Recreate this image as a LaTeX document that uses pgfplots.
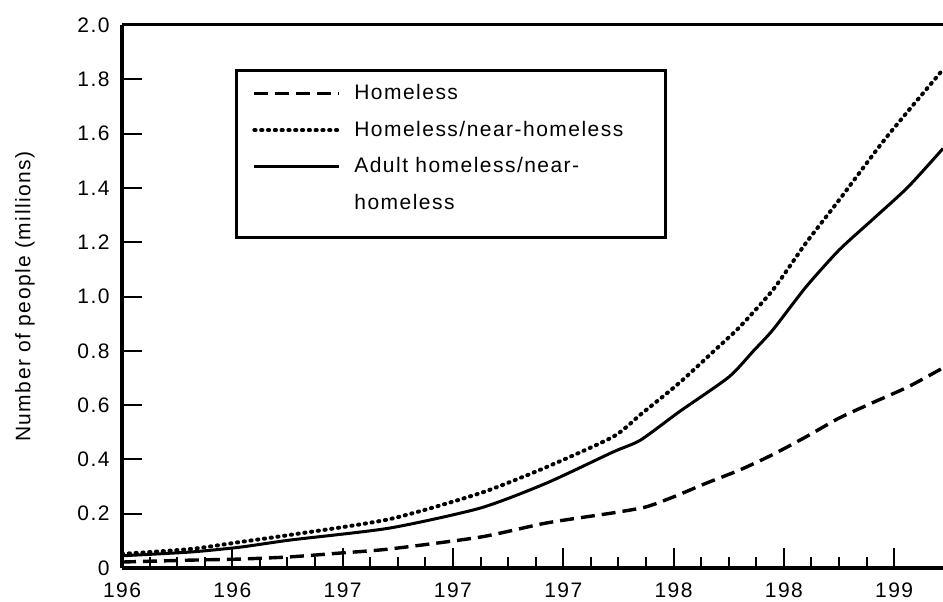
\documentclass[border=0pt]{standalone}
\usepackage{fontspec}
\setmainfont{Liberation Sans}[LetterSpace=7]
\usepackage{pgfplots}
\pgfplotsset{compat=1.18}
\begin{document}
\fontsize{10.5pt}{12.5pt}\selectfont
\begin{tikzpicture}
\begin{axis}[
  scale only axis, width=410.5pt, height=271.5pt,
  at={(0pt,0pt)}, anchor=south west,
  xmin=1962, xmax=1991.77, ymin=0, ymax=2,
  axis x line=bottom, axis y line=left,
  axis line style={-, line width=2.4pt, black},
  tick align=inside,
  xtick={1962,1966,1970,1974,1978,1982,1986,1990},
  xticklabels={196,196,197,197,197,198,198,199},
  minor x tick num=3,
  ytick={0,0.2,0.4,0.6,0.8,1.0,1.2,1.4,1.6,1.8,2.0},
  yticklabels={0,0.2,0.4,0.6,0.8,1.0,1.2,1.4,1.6,1.8,2.0},
  major tick length=10pt, minor tick length=5.5pt,
  every tick/.style={black, line width=1pt},
  tick label style={font=\fontsize{10.5pt}{12.5pt}\selectfont},
  /pgf/number format/assume math mode=true,
  xticklabel style={yshift=-3.5pt},
  yticklabel style={xshift=-2.5pt},
  ylabel={Number of people (millions)},
  every axis y label/.style={at={(axis description cs:-0.1181,0.5)}, rotate=90, anchor=center, font=\fontsize{10.5pt}{12.5pt}\selectfont},
  clip=false,
  legend cell align=left,
  legend style={at={(axis description cs:0.1583,0.9085)}, anchor=north west,
    draw=none, fill=none, inner sep=0pt, row sep=0pt, column sep=6.5pt,
    font=\fontsize{10.5pt}{12.5pt}\selectfont,
    nodes={inner sep=0pt, minimum height=18.35pt, text height=7.5pt, text depth=1.5pt}},
  legend image code/.code={\draw[#1] (0pt,0pt) -- (42.5pt,0pt);},
]
\addplot[black, line width=1.7pt, smooth, tension=0.4, dash pattern=on 7pt off 3.5pt] coordinates {
(1962.0,0.022) (1964.5,0.029) (1966.3,0.033) (1968.1,0.041) (1969.9,0.055)
(1971.7,0.070) (1975.0,0.114) (1977.4,0.166) (1979.8,0.203) (1981.0,0.225)
(1982.0,0.262) (1983.2,0.313) (1984.4,0.361) (1985.6,0.418)
(1986.8,0.483) (1988.0,0.552) (1989.2,0.608) (1990.5,0.667) (1991.77,0.737)
};
\addlegendentry{Homeless}
\addplot[black, line width=2pt, smooth, tension=0.4, line cap=round, dash pattern=on 0.6pt off 2.8pt] coordinates {
(1962.0,0.052) (1964.5,0.070) (1966.3,0.096) (1968.1,0.122) (1971.7,0.180)
(1975.0,0.276) (1977.4,0.372) (1979.8,0.483) (1980.8,0.565) (1982.2,0.681)
(1983.6,0.812) (1984.4,0.888) (1985.6,1.024) (1986.8,1.197) (1988.0,1.355)
(1989.7,1.584) (1991.77,1.836)
};
\addlegendentry{Homeless/near-homeless}
\addplot[black, line width=1.5pt, smooth, tension=0.4] coordinates {
(1962.0,0.045) (1964.5,0.059) (1966.3,0.077) (1968.1,0.103) (1971.7,0.147)
(1975.0,0.221) (1977.4,0.313) (1979.8,0.427) (1980.8,0.471) (1982.2,0.575)
(1984.0,0.703) (1984.9,0.800) (1985.6,0.877) (1986.8,1.035) (1988.0,1.171)
(1989.2,1.282) (1990.5,1.403) (1991.77,1.545)
};
\addlegendentry{Adult homeless/near-}
\addlegendimage{empty legend}
\addlegendentry{homeless}
\draw[line width=1.5pt] (axis cs:1966.17,1.2155) rectangle (axis cs:1981.72,1.834);
\draw[line width=1.5pt] (rel axis cs:0,1) -- (rel axis cs:1,1);
\end{axis}
\pgfresetboundingbox
\path[use as bounding box] (-61pt,-16.5pt) rectangle (410.5pt,284pt);
\end{tikzpicture}
\end{document}
